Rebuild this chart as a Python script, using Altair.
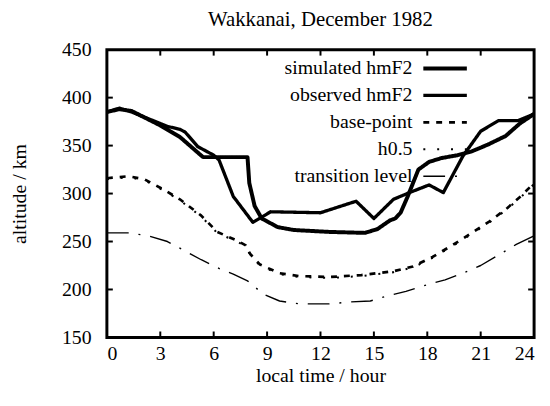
import altair as alt
import pandas as pd

series_names = ["simulated hmF2", "observed hmF2", "base-point", "h0.5", "transition level"]

sim_h = [0, 0.7, 1.4, 3.0, 4.1, 5.4, 7.9, 8.0, 8.3, 8.7, 9.6, 10.5, 12.5, 14.5, 15.2, 15.9, 16.2, 16.5, 16.9, 17.2, 17.5, 18.1, 18.8, 19.7, 20.5, 21.4, 22.4, 23.2, 24]
sim_v = [385, 388, 386, 371, 359, 338, 338, 311, 287, 274, 265, 262, 260, 259, 263, 272, 274, 280, 297, 311, 325, 333, 337, 340, 344, 351, 360, 373, 383]

obs_h = [0, 0.7, 1.4, 3.0, 3.4, 4.1, 4.4, 5.1, 6.0, 6.3, 7.1, 8.2, 9.2, 12.0, 14.0, 15.0, 16.1, 17.0, 18.1, 18.9, 20.0, 21.0, 22.0, 23.1, 24]
obs_v = [385, 389, 385, 373, 370, 367, 364, 349, 340, 335, 297, 270, 281, 280, 292, 274, 294, 301, 309, 301, 339, 365, 376, 376, 383]

base_h = [0, 1.2, 2.1, 3.2, 4.1, 5.3, 6.2, 7.3, 7.8, 8.05, 8.6, 9.7, 10.8, 12.5, 14.3, 16.1, 17.2, 18.3, 19.4, 20.5, 21.5, 22.5, 23.3, 24]
base_v = [316, 318, 315, 304, 294, 277, 260, 251, 246, 237, 226, 217, 214, 213, 215, 219, 224, 234, 246, 259, 271, 285, 298, 311]

h05_h = base_h
h05_v = [315, 317, 314, 303, 293, 276, 259, 250, 245, 236, 225, 216, 213, 212, 214, 218, 223, 233, 245, 258, 270, 284, 297, 310]

trans_h = [0, 1.2, 2.3, 3.4, 4.1, 5.3, 6.4, 7.1, 7.9, 8.8, 9.7, 10.8, 12.5, 13.7, 14.8, 15.7, 16.8, 18.0, 19.0, 20.0, 21.0, 22.0, 23.0, 24]
trans_v = [259, 259, 256, 250, 243, 231, 221, 216, 209, 195, 188, 185, 185, 187, 188, 193, 198, 205, 210, 217, 225, 236, 247, 256]

x_ticks = [0, 3, 6, 9, 12, 15, 18, 21, 24]
y_ticks = [150, 200, 250, 300, 350, 400, 450]
x_inner = [3, 6, 9, 12, 15, 18, 21]
y_inner = [200, 250, 300, 350, 400]

rows = []
for name, hs, vs in zip(series_names,
                        [sim_h, obs_h, base_h, h05_h, trans_h],
                        [sim_v, obs_v, base_v, h05_v, trans_v]):
    for h, v in zip(hs, vs):
        rows.append({"series": name, "hour": h, "alt": v})
df = pd.DataFrame(rows)
leg_df = pd.DataFrame({"series": series_names})

W, H = 432, 291
FONT = "Liberation Serif"
FS = 20

xscale = alt.Scale(domain=[0, 24], nice=False, zero=False)
yscale = alt.Scale(domain=[150, 450], nice=False, zero=False)
dash_enc = alt.StrokeDash("series:N", legend=None,
                          scale=alt.Scale(domain=series_names,
                                          range=[[1, 0], [1, 0], [6, 7], [2, 12], [22, 10, 2, 10]]))
width_enc = alt.StrokeWidth("series:N", legend=None,
                            scale=alt.Scale(domain=series_names, range=[4, 1.4, 1.4, 2, 1.6]))
yoff_enc = alt.YOffset("series:N", scale=alt.Scale(type="point", domain=series_names,
                                                    range=[0, 109], padding=0))

lines = alt.Chart(df).mark_line(color="black", strokeJoin="round").encode(
    x=alt.X("hour:Q", scale=xscale,
            axis=alt.Axis(values=x_ticks, title="local time / hour", ticks=False, domain=False,
                          grid=False, labelPadding=6, titlePadding=3, format="d")),
    y=alt.Y("alt:Q", scale=yscale,
            axis=alt.Axis(values=y_ticks, title="altitude / km", ticks=False, domain=False,
                          grid=False, labelPadding=16, titlePadding=32, format="d")),
    strokeDash=dash_enc,
    strokeWidth=width_enc,
    order=alt.Order("hour:Q"),
)

leg_text = alt.Chart(leg_df).mark_text(align="right", baseline="middle", font=FONT,
                                        fontSize=FS, color="black").encode(
    x=alt.value(309), y=alt.value(19), yOffset=yoff_enc, text="series:N")
leg_sym = alt.Chart(leg_df).mark_rule(color="black").encode(
    x=alt.value(320), x2=alt.value(364), y=alt.value(19), yOffset=yoff_enc,
    strokeDash=dash_enc, strokeWidth=width_enc)

top_t = alt.Chart(pd.DataFrame({"t": x_inner})).mark_rule(color="black", strokeWidth=2).encode(
    x=alt.X("t:Q", scale=xscale), y=alt.value(0), y2=alt.value(6))
bot_t = alt.Chart(pd.DataFrame({"t": x_inner})).mark_rule(color="black", strokeWidth=2).encode(
    x=alt.X("t:Q", scale=xscale), y=alt.value(H), y2=alt.value(H - 6))
left_t = alt.Chart(pd.DataFrame({"t": y_inner})).mark_rule(color="black", strokeWidth=2).encode(
    y=alt.Y("t:Q", scale=yscale), x=alt.value(0), x2=alt.value(6))
right_t = alt.Chart(pd.DataFrame({"t": y_inner})).mark_rule(color="black", strokeWidth=2).encode(
    y=alt.Y("t:Q", scale=yscale), x=alt.value(W), x2=alt.value(W - 6))

chart = alt.layer(lines, leg_sym, leg_text, top_t, bot_t, left_t, right_t).properties(
    width=W, height=H,
    title=alt.Title("Wakkanai, December 1982", font=FONT, fontSize=21, fontWeight="normal",
                    color="black", offset=10),
    autosize=alt.AutoSizeParams(type="none"),
    padding={"left": 100, "top": 40, "right": 8, "bottom": 50},
    background="white",
).configure_view(stroke="black", strokeWidth=3).configure_axis(
    labelFont=FONT, labelFontSize=FS, labelColor="black",
    titleFont=FONT, titleFontSize=FS, titleColor="black", titleFontWeight="normal",
)

chart.save("out.html", embed_options={"renderer": "svg", "actions": False})
